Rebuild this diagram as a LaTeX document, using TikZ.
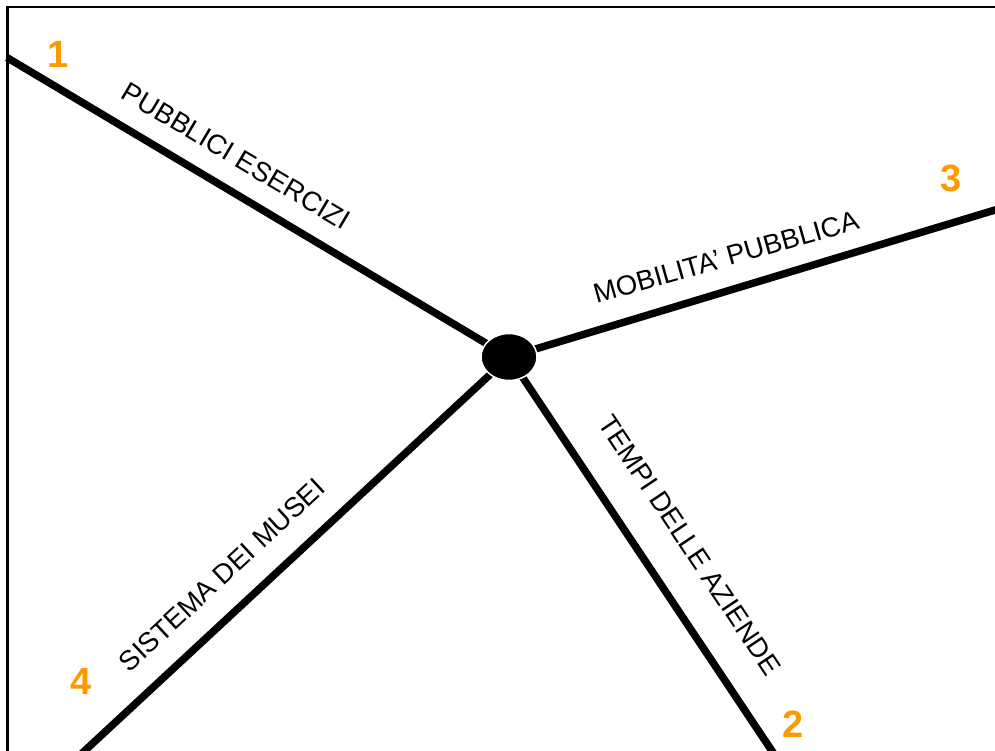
\documentclass[tikz,border=0pt]{standalone}
\usepackage{fontspec}
\setmainfont{Liberation Sans}
\usetikzlibrary{shapes.geometric}
\definecolor{numorange}{HTML}{FF9900}
\tikzset{
  spoke/.style={line width=7.5pt, black},
  lbl/.style={font=\fontsize{27.5}{32}\selectfont, inner sep=0pt},
  num/.style={font=\fontsize{38}{44}\selectfont\bfseries, text=numorange, inner sep=0pt},
  hub/.style={ellipse, fill=black, draw=white, line width=1.5pt, minimum width=56pt, minimum height=47pt, inner sep=0pt}
}
\begin{document}
\begin{tikzpicture}[x=1pt,y=-1pt]
\useasboundingbox (0,0) rectangle (995,751);
\clip (0,0) rectangle (995,751);
\draw[line width=2.5pt] (7.5,7) rectangle (1010,770);
\coordinate (ctr) at (509,357);
\coordinate (e1) at (7,57.6);
\coordinate (e3) at (1000,208.5);
\coordinate (e2) at (776,757);
\coordinate (e4) at (78,757);
\draw[spoke] (e1) -- (ctr);
\draw[spoke] (e3) -- (ctr);
\draw[spoke] (e2) -- (ctr);
\draw[spoke] (e4) -- (ctr);
\node[hub] (hub) at (ctr) {};
\node[lbl, rotate=-30.8] (l1) at (236,156) {PUBBLICI ESERCIZI};
\node[lbl, rotate=15.8] (l3) at (726,257) {MOBILITA’ PUBBLICA};
\node[lbl, rotate=-56.3] (l2) at (690,545) {TEMPI DELLE AZIENDE};
\node[lbl, rotate=42.9] (l4) at (222,575) {SISTEMA DEI MUSEI};
\node[num] (n1) at (58,54) {1};
\node[num] (n3) at (951,178) {3};
\node[num] (n2) at (793,724) {2};
\node[num] (n4) at (81,681) {4};
\end{tikzpicture}
\end{document}
